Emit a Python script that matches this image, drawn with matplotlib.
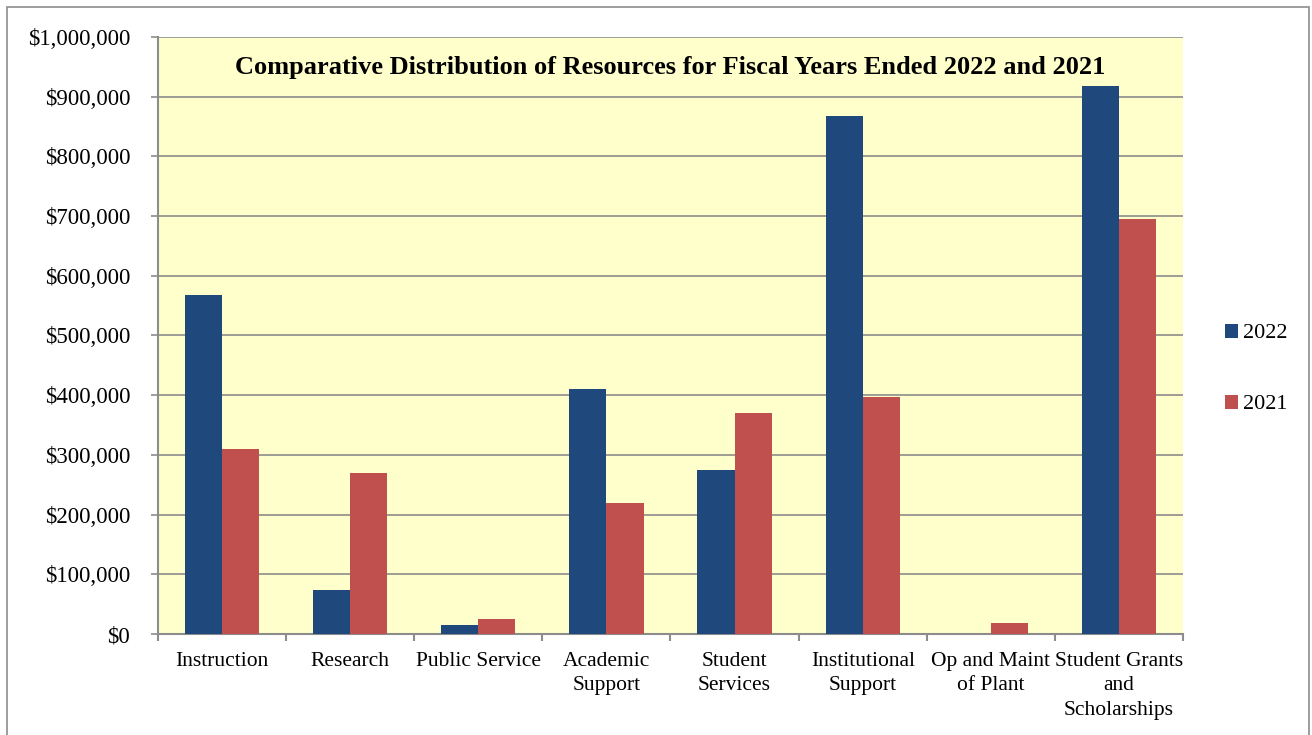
import numpy as np
import matplotlib
matplotlib.use('Agg')
import matplotlib.pyplot as plt
from matplotlib.patches import Rectangle
from matplotlib.ticker import FuncFormatter, FixedLocator

plt.rcParams['font.family'] = ['Liberation Serif', 'DejaVu Serif']

# ---------------- data ----------------
categories = ['Instruction', 'Research', 'Public Service', 'Academic\nSupport',
              'Student\nServices', 'Institutional\nSupport', 'Op and Maint\nof Plant',
              'Student Grants\nand\nScholarships']
values_2022 = [568000, 74000, 15000, 410000, 275000, 868000, 0, 918000]
values_2021 = [310000, 270000, 25000, 219000, 370000, 397000, 18000, 695000]

title = 'Comparative Distribution of Resources for Fiscal Years Ended 2022 and 2021'

blue = '#1F497D'
red = '#C0504D'
grid_gray = '#8C8C8C'

# ---------------- figure ----------------
fig = plt.figure(figsize=(13.12, 7.35), dpi=100)
ax = fig.add_axes([0.1204, 0.1374, 0.9017 - 0.1204, 0.9497 - 0.1374])
ax.set_facecolor('#FFFFCC')

# outer frame of the chart
fig.patches.append(Rectangle((0.0053, -0.02), 0.9924, 1.0105, transform=fig.transFigure,
                             fill=False, edgecolor='#8C8C8C', linewidth=1.2))

x = np.arange(len(categories))
w = 0.29
ax.bar(x - w / 2, values_2022, w, color=blue, label='2022', zorder=3)
ax.bar(x + w / 2, values_2021, w, color=red, label='2021', zorder=3)

ax.set_xlim(-0.5, len(categories) - 0.5)
ax.set_ylim(0, 1000000)
ax.set_yticks(np.arange(0, 1000001, 100000))
ax.yaxis.set_major_formatter(FuncFormatter(lambda v, p: '${:,.0f}'.format(v)))
ax.grid(axis='y', color=grid_gray, linewidth=1.2, zorder=0)

# category labels between the boundary ticks
ax.set_xticks(x)
ax.set_xticklabels(categories, fontsize=15.5, linespacing=1.38, va='top')
ax.tick_params(axis='x', length=0, pad=13)
ax.xaxis.set_minor_locator(FixedLocator(np.arange(-0.5, len(categories), 1)))
ax.tick_params(axis='x', which='minor', length=5, color=grid_gray, width=1.5, direction='out')
ax.tick_params(axis='y', length=5, color=grid_gray, width=1.2, labelsize=16.5, pad=15)

for s in ['top', 'right']:
    ax.spines[s].set_visible(False)
for s in ['left', 'bottom']:
    ax.spines[s].set_color(grid_gray)
    ax.spines[s].set_linewidth(1.5)

ax.text(0.5, 0.968, title, transform=ax.transAxes, ha='center', va='top',
        fontsize=19, fontweight='bold')

leg = fig.legend(loc='center', bbox_to_anchor=(1256 / 1312, 1 - 369 / 735), frameon=False,
                 fontsize=16, handlelength=0.6, handleheight=0.6, handletextpad=0.2,
                 labelspacing=2.3)

fig.savefig('out.png', dpi=100)
